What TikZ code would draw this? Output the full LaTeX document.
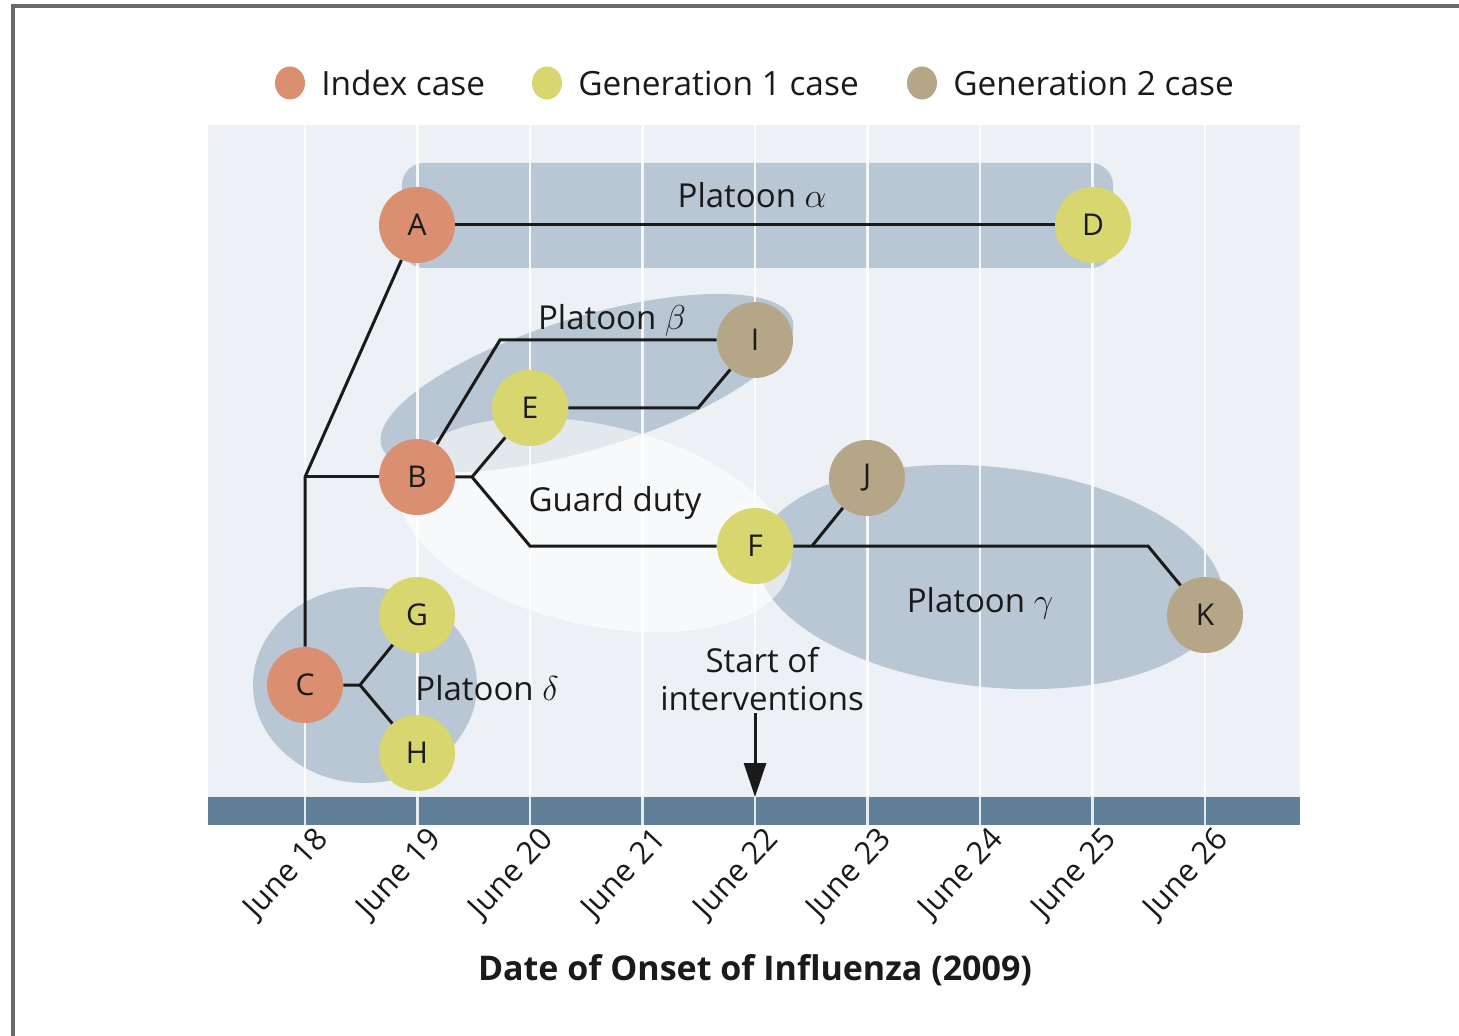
\documentclass[tikz,border=0pt]{standalone}
\usepackage{fontspec}
\setmainfont{Open Sans}
\usetikzlibrary{arrows.meta,calc,shapes.geometric}
\definecolor{panelbg}{HTML}{EDF1F5}
\definecolor{platoonc}{HTML}{B9C6D3}
\definecolor{barc}{HTML}{5F7F99}
\definecolor{indexc}{HTML}{D98F70}
\definecolor{genone}{HTML}{D8D66E}
\definecolor{gentwo}{HTML}{B5A688}
\definecolor{framec}{HTML}{6A6A6A}
\definecolor{inkc}{HTML}{1A1A1A}
\begin{document}
\begin{tikzpicture}[x=0.5pt,y=-0.5pt,
  case/.style={circle,minimum size=38pt,inner sep=0pt,font=\fontsize{15}{17}\selectfont,text=inkc},
  legdot/.style={ellipse,minimum width=15pt,minimum height=16.5pt,inner sep=0pt},
  legtext/.style={anchor=west,font=\fontsize{16.7}{19}\selectfont,text=inkc,inner sep=0pt},
  lbl/.style={font=\fontsize{16.5}{19}\selectfont,text=inkc,inner sep=1pt},
  datelbl/.style={font=\fontsize{15.5}{18}\selectfont,text=inkc,rotate=47,anchor=east,inner sep=0pt},
  conn/.style={draw=inkc,line width=1.5pt},
  platoon/.style={fill=platoonc},
  gridl/.style={draw=white,line width=1.4pt,opacity=0.85}]
\useasboundingbox (0,0) rectangle (1459,1036);
\clip (0,0) rectangle (1459,1036);
\fill[white] (0,0) rectangle (1459,1036);
\draw[framec,line width=2pt] (13,6) rectangle (1490,1070);

% legend
\node[legdot,fill=indexc] (l1) at (290,83) {};
\node[legtext] (t1) at (321,83) {Index case};
\node[legdot,fill=genone] (l2) at (547,83) {};
\node[legtext] (t2) at (578,83) {Generation 1 case};
\node[legdot,fill=gentwo] (l3) at (922,83) {};
\node[legtext] (t3) at (953,83) {Generation 2 case};

% panel
\fill[panelbg] (208,125) rectangle (1300,797);
\fill[barc] (208,797) rectangle (1300,825);

% platoon shapes
\fill[platoon,rounded corners=11pt] (402,163) rectangle (1113,268);
\fill[platoon,rotate around={17:(587,383)}] (587,383) ellipse [x radius=215, y radius=66];
\fill[platoon,rotate around={-6:(990,577)}] (990,577) ellipse [x radius=234, y radius=110];
\fill[platoon] (365,685) ellipse [x radius=112, y radius=98];
% guard duty region
\fill[white,opacity=0.6,rotate around={-13:(595,525)}] (595,525) ellipse [x radius=200, y radius=100];

% grid lines
\foreach \gx in {305,417.5,530,642.5,755,867.5,980,1092.5,1205}
  \draw[gridl] (\gx,125) -- (\gx,825);

% cases
\node[case,fill=indexc] (A) at (417,225) {A};
\node[case,fill=genone] (D) at (1093,225) {D};
\node[case,fill=gentwo] (I) at (755,340) {I};
\node[case,fill=genone] (E) at (530,408) {E};
\node[case,fill=indexc] (B) at (417,477) {B};
\node[case,fill=gentwo] (J) at (867,478) {J};
\node[case,fill=genone] (F) at (755,546) {F};
\node[case,fill=gentwo] (K) at (1205,615) {K};
\node[case,fill=genone] (G) at (417,615) {G};
\node[case,fill=indexc] (C) at (305,685) {C};
\node[case,fill=genone] (H) at (417,753) {H};

% junctions
\coordinate (j0) at (305,477);
\coordinate (jbi) at (500,340);
\coordinate (jb) at (472,477);
\coordinate (jbf) at (530,546);
\coordinate (jei) at (698,408);
\coordinate (jf) at (812,546);
\coordinate (jfk) at (1148,546);
\coordinate (jc) at (360,685);

% connectors
\draw[conn] (C) -- (j0) -- (A);
\draw[conn] (j0) -- (B);
\draw[conn] (A) -- (D);
\draw[conn] (B) -- (jbi) -- (I);
\draw[conn] (B) -- (jb) -- (E);
\draw[conn] (jb) -- (jbf) -- (F);
\draw[conn] (E) -- (jei) -- (I);
\draw[conn] (jf) -- (J);
\draw[conn] (F) -- (jfk) -- (K);
\draw[conn] (C) -- (jc) -- (G);
\draw[conn] (jc) -- (H);

% labels
\node[lbl] (pa) at (752,195) {Platoon $\alpha$};
\node[lbl] (pb) at (612,320) {Platoon $\beta$};
\node[lbl] (gd) at (615,503) {Guard duty};
\node[lbl] (pg) at (980,603) {Platoon $\gamma$};
\node[lbl] (pd) at (487,688) {Platoon $\delta$};
\node[lbl,align=center] (si) at (762,679) {Start of\\interventions};
\coordinate (arr) at (755,797);
\draw[conn,-{Triangle[length=17pt,width=11pt]}] (si.south -| arr) -- (arr);

% dates
\foreach \gx/\d in {305/18,417.5/19,530/20,642.5/21,755/22,867.5/23,980/24,1092.5/25,1205/26}
  \node[datelbl] (d\d) at (\gx+19,835) {June \d};

\node[font=\bfseries\fontsize{17}{20}\selectfont,text=inkc] (title) at (755,970) {Date of Onset of Influenza (2009)};
\end{tikzpicture}
\end{document}
